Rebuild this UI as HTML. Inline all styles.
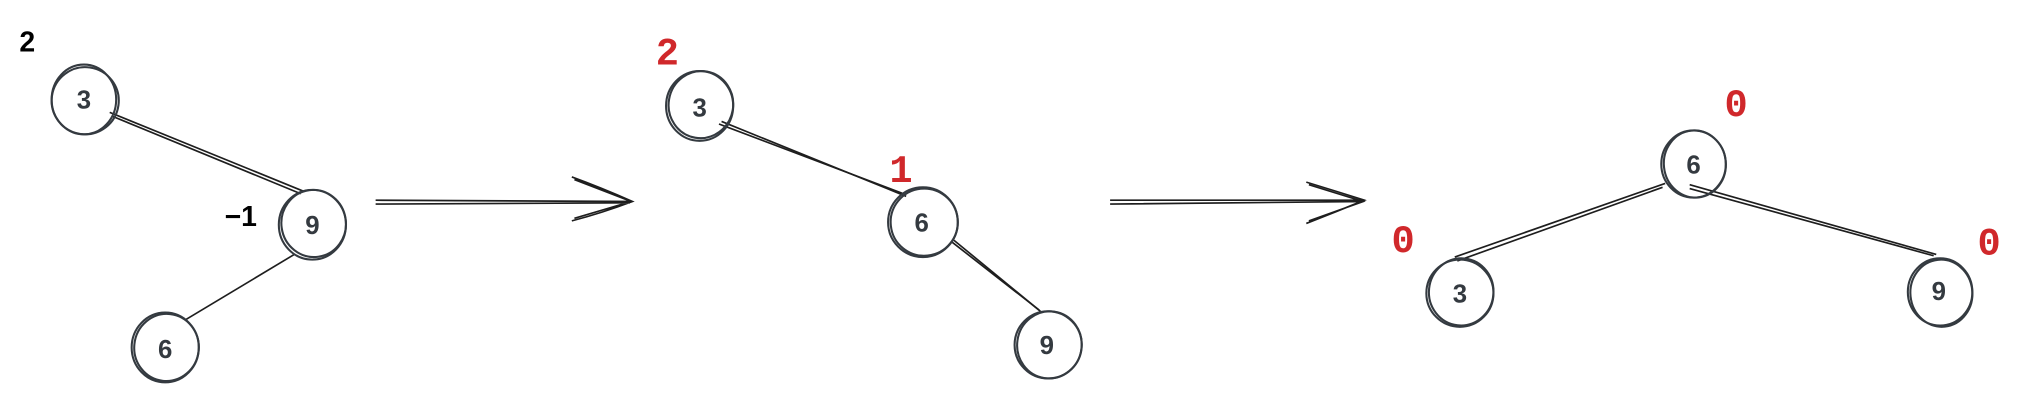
<!DOCTYPE html>
<html><head><meta charset="utf-8"><style>
html,body{margin:0;padding:0;background:#fff;}
svg{display:block;}
.n{fill:none;stroke:#343a40;stroke-width:1.6;}
.e{stroke:#1e1e1e;stroke-width:1.3;fill:none;}
.t{font-family:"Liberation Sans",sans-serif;font-size:20px;font-weight:bold;fill:#343a40;text-anchor:middle;dominant-baseline:central;}
.b{font-family:"Liberation Sans",sans-serif;font-size:22px;font-weight:bold;fill:#000;}
.r{font-family:"Liberation Mono",monospace;font-size:30px;font-weight:bold;fill:#d0282b;}
</style></head><body>
<svg width="2024" height="403" viewBox="0 0 1568 312" preserveAspectRatio="none" xmlns="http://www.w3.org/2000/svg">
<text class="b" x="15" y="40">2</text>
<text class="b" x="174" y="175">−1</text>
<line class="e" x1="85" y1="87" x2="235" y2="148"/><line class="e" x1="87" y1="90" x2="233" y2="150"/>
<line class="e" x1="228" y1="197" x2="143" y2="248"/>
<ellipse class="n" cx="65" cy="77" rx="25" ry="27"/><ellipse class="n" cx="66" cy="78" rx="26" ry="26" transform="rotate(8 66 78)"/>
<text class="t" x="65" y="78">3</text>
<ellipse class="n" cx="242" cy="174" rx="26" ry="27"/><ellipse class="n" cx="243" cy="173" rx="25" ry="26" transform="rotate(-8 243 173)"/>
<text class="t" x="242" y="175">9</text>
<ellipse class="n" cx="128" cy="269" rx="26" ry="27"/><ellipse class="n" cx="129" cy="269" rx="25" ry="26" transform="rotate(6 129 269)"/>
<text class="t" x="128" y="271">6</text>
<path class="e" d="M291 155 L490 156 M291 158 L488 157 M443 137 Q465 145 490 156 Q466 165 443 171 M445 139 L489 156 L445 169"/>
<text class="r" x="508" y="50">2</text>
<text class="r" x="689" y="141">1</text>
<line class="e" x1="557" y1="96" x2="700" y2="150"/><line class="e" x1="559" y1="94" x2="702" y2="152"/>
<line class="e" x1="737" y1="187" x2="805" y2="240"/><line class="e" x1="739" y1="186" x2="806" y2="241"/>
<ellipse class="n" cx="542" cy="82" rx="26" ry="27"/><ellipse class="n" cx="543" cy="81" rx="25" ry="26" transform="rotate(10 543 81)"/>
<text class="t" x="542" y="84">3</text>
<ellipse class="n" cx="715" cy="172" rx="27" ry="27"/><ellipse class="n" cx="716" cy="172" rx="26" ry="26" transform="rotate(-6 716 172)"/>
<text class="t" x="714" y="173">6</text>
<ellipse class="n" cx="812" cy="267" rx="26" ry="26"/><ellipse class="n" cx="813" cy="267" rx="25" ry="26" transform="rotate(8 813 267)"/>
<text class="t" x="811" y="268">9</text>
<path class="e" d="M860 155 L1057 155 M860 158 L1055 156 M1012 141 Q1035 148 1057 155 Q1035 164 1012 173 M1014 143 L1056 156 L1014 171"/>
<text class="r" x="1336" y="90">0</text>
<text class="r" x="1078" y="195">0</text>
<text class="r" x="1532" y="197">0</text>
<line class="e" x1="1290" y1="142" x2="1127" y2="199"/><line class="e" x1="1288" y1="145" x2="1129" y2="202"/>
<line class="e" x1="1309" y1="143" x2="1500" y2="197"/><line class="e" x1="1309" y1="146" x2="1498" y2="198"/>
<ellipse class="n" cx="1312" cy="127" rx="25" ry="26"/><ellipse class="n" cx="1313" cy="127" rx="24" ry="26" transform="rotate(-6 1313 127)"/>
<text class="t" x="1312" y="128">6</text>
<ellipse class="n" cx="1131" cy="227" rx="26" ry="26"/><ellipse class="n" cx="1132" cy="226" rx="25" ry="26" transform="rotate(6 1132 226)"/>
<text class="t" x="1131" y="228">3</text>
<ellipse class="n" cx="1503" cy="226" rx="25" ry="26"/><ellipse class="n" cx="1504" cy="227" rx="24" ry="26" transform="rotate(-6 1504 227)"/>
<text class="t" x="1502" y="226">9</text>
</svg>
</body></html>
